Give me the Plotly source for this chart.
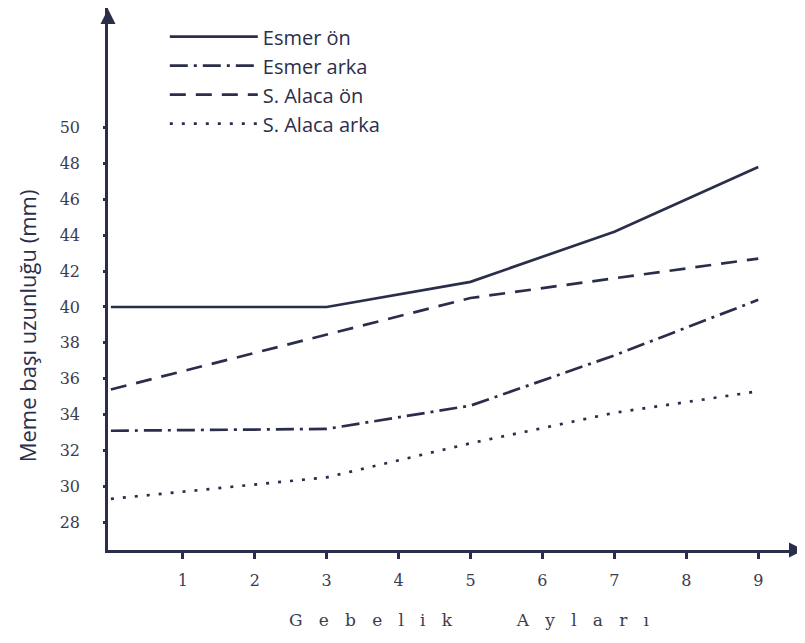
import plotly.graph_objects as go

months_esmer_on = [0, 3, 5, 7, 9]
esmer_on = [40.0, 40.0, 41.4, 44.2, 47.8]

months_esmer_arka = [0, 3, 5, 7, 9]
esmer_arka = [33.1, 33.2, 34.5, 37.3, 40.4]

months_alaca_on = [0, 5, 9]
alaca_on = [35.4, 40.5, 42.7]

months_alaca_arka = [0, 3, 5, 7, 9]
alaca_arka = [29.3, 30.5, 32.4, 34.1, 35.3]

series_names = ["Esmer ön", "Esmer arka", "S. Alaca ön", "S. Alaca arka"]
x_ticks = [1, 2, 3, 4, 5, 6, 7, 8, 9]
y_ticks = [28, 30, 32, 34, 36, 38, 40, 42, 44, 46, 48, 50]
y_range = [26.45, 56.67]

ink = "#2b2e4a"
label_ink = "#3c3c4e"
dashes = ["solid", "18px,6px,3px,6px", "16px,10px", "3px,9px"]
xs = [months_esmer_on, months_esmer_arka, months_alaca_on, months_alaca_arka]
ys = [esmer_on, esmer_arka, alaca_on, alaca_arka]

fig = go.Figure()
for i, name in enumerate(series_names):
    fig.add_trace(go.Scatter(
        x=xs[i], y=ys[i], name=name, mode="lines",
        line=dict(color=ink, width=2.7, dash=dashes[i]),
        hoverinfo="skip",
    ))
# empty trace so the overlay axis (short visible tick marks) is drawn
fig.add_trace(go.Scatter(x=[None], y=[None], yaxis="y2", showlegend=False,
                         mode="lines", hoverinfo="skip"))

serif = "DejaVu Serif"
sans = "Open Sans"
nb = "\u00a0"
x_title = (nb * 3).join("Gebelik") + nb * 12 + (nb * 3).join("Ayları")

# page has an 8px body margin, so the figure is 8px smaller than the window
fig.update_layout(
    width=797, height=635,
    margin=dict(l=100, r=0, t=0, b=93),
    paper_bgcolor="white", plot_bgcolor="white",
    showlegend=True,
    legend=dict(
        x=0.0815, y=0.983, xanchor="left", yanchor="top",
        bgcolor="rgba(0,0,0,0)",
        font=dict(family=sans, size=20, color=ink),
        itemwidth=88, tracegroupgap=0,
    ),
    xaxis=dict(
        range=[-0.04, 9.65], showgrid=False, zeroline=False, automargin=False,
        showline=True, linecolor=ink, linewidth=2.5,
        tickvals=x_ticks, ticks="outside", ticklen=6, tickwidth=2.5, tickcolor=ink,
        tickfont=dict(family=serif, size=16, color=label_ink),
        ticklabelstandoff=8,
    ),
    yaxis=dict(
        range=y_range, showgrid=False, zeroline=False, automargin=False,
        showline=True, linecolor=ink, linewidth=2.5,
        tickvals=y_ticks, ticks="outside", ticklen=22, tickwidth=1,
        tickcolor="rgba(0,0,0,0)",
        tickfont=dict(family=serif, size=16, color=label_ink),
    ),
    yaxis2=dict(
        range=y_range, overlaying="y", side="left", anchor="x",
        showgrid=False, zeroline=False, automargin=False, showline=False,
        tickvals=y_ticks, ticks="outside", ticklen=4, tickwidth=2.5, tickcolor=ink,
        showticklabels=False,
    ),
)

# axis titles
fig.add_annotation(x=-0.116, y=0.413, xref="paper", yref="paper",
                   xanchor="center", yanchor="middle",
                   text="Meme başı uzunluğu (mm)", textangle=-90, showarrow=False,
                   font=dict(family=sans, size=22, color=ink))
fig.add_annotation(x=0.519, y=-0.129, xref="paper", yref="paper",
                   xanchor="center", yanchor="middle",
                   text=x_title, showarrow=False,
                   font=dict(family=serif, size=17, color=label_ink))

# axis arrows
fig.add_annotation(x=0, y=1, xref="paper", yref="paper", ax=0, ay=14,
                   showarrow=True, arrowhead=2, arrowsize=1.2, arrowwidth=2.5,
                   arrowcolor=ink, text="")
fig.add_annotation(x=1, y=0, xref="paper", yref="paper", ax=-14, ay=0,
                   showarrow=True, arrowhead=2, arrowsize=1.2, arrowwidth=2.5,
                   arrowcolor=ink, text="")

fig.write_html("out.html")
